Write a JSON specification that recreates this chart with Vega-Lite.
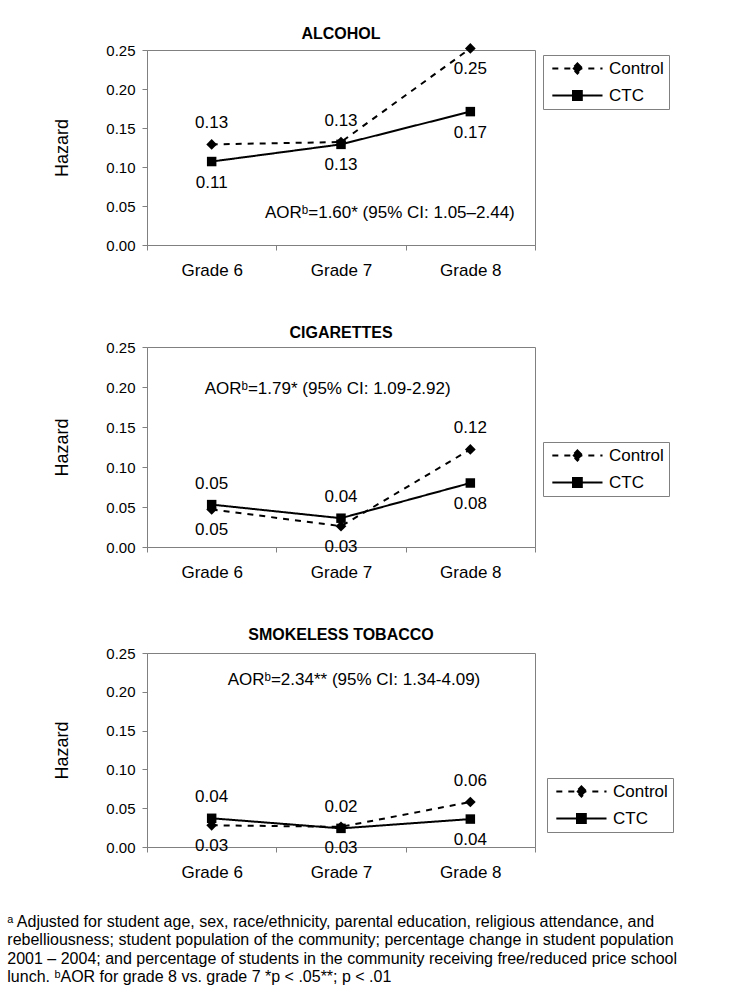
{
  "$schema": "https://vega.github.io/schema/vega-lite/v6.json",
  "padding": {"left": 7, "top": 25, "right": 5, "bottom": 5},
  "background": "white",
  "datasets": {
    "hazard": [
      {"panel": "ALCOHOL", "grade": "Grade 6", "group": "Control", "hazard": 0.129},
      {"panel": "ALCOHOL", "grade": "Grade 7", "group": "Control", "hazard": 0.132},
      {"panel": "ALCOHOL", "grade": "Grade 8", "group": "Control", "hazard": 0.252},
      {"panel": "ALCOHOL", "grade": "Grade 6", "group": "CTC", "hazard": 0.107},
      {"panel": "ALCOHOL", "grade": "Grade 7", "group": "CTC", "hazard": 0.129},
      {"panel": "ALCOHOL", "grade": "Grade 8", "group": "CTC", "hazard": 0.171},
      {"panel": "CIGARETTES", "grade": "Grade 6", "group": "Control", "hazard": 0.047},
      {"panel": "CIGARETTES", "grade": "Grade 7", "group": "Control", "hazard": 0.026},
      {"panel": "CIGARETTES", "grade": "Grade 8", "group": "Control", "hazard": 0.122},
      {"panel": "CIGARETTES", "grade": "Grade 6", "group": "CTC", "hazard": 0.053},
      {"panel": "CIGARETTES", "grade": "Grade 7", "group": "CTC", "hazard": 0.036},
      {"panel": "CIGARETTES", "grade": "Grade 8", "group": "CTC", "hazard": 0.080},
      {"panel": "SMOKELESS TOBACCO", "grade": "Grade 6", "group": "Control", "hazard": 0.028},
      {"panel": "SMOKELESS TOBACCO", "grade": "Grade 7", "group": "Control", "hazard": 0.026},
      {"panel": "SMOKELESS TOBACCO", "grade": "Grade 8", "group": "Control", "hazard": 0.058},
      {"panel": "SMOKELESS TOBACCO", "grade": "Grade 6", "group": "CTC", "hazard": 0.037},
      {"panel": "SMOKELESS TOBACCO", "grade": "Grade 7", "group": "CTC", "hazard": 0.024},
      {"panel": "SMOKELESS TOBACCO", "grade": "Grade 8", "group": "CTC", "hazard": 0.036}
    ],
    "notes": [
      {"panel": "ALCOHOL", "grade": "Grade 7", "hazard": 0.041, "note": "AORᵇ=1.60* (95% CI: 1.05–2.44)"},
      {"panel": "CIGARETTES", "grade": "Grade 6", "hazard": 0.198, "note": "AORᵇ=1.79* (95% CI: 1.09-2.92)"},
      {"panel": "SMOKELESS TOBACCO", "grade": "Grade 6", "hazard": 0.2156, "note": "AORᵇ=2.34** (95% CI: 1.34-4.09)"}
    ]
  },
  "title": {
    "text": [
      "ᵃ Adjusted for student age, sex, race/ethnicity, parental education, religious attendance, and",
      "rebelliousness; student population of the community; percentage change in student population",
      "2001 – 2004; and percentage of students in the community receiving free/reduced price school",
      "lunch. ᵇAOR for grade 8 vs. grade 7 *p < .05**; p < .01"
    ],
    "orient": "bottom",
    "anchor": "start",
    "frame": "bounds",
    "fontSize": 16,
    "fontWeight": "normal",
    "lineHeight": 18.5,
    "offset": 33,
    "dx": -46,
    "color": "black"
  },
  "spacing": 45,
  "resolve": {"scale": {"strokeDash": "independent"}},
  "vconcat": [
    {
      "width": 388,
      "height": 195,
      "title": {"text": "ALCOHOL", "frame": "group", "anchor": "middle", "fontSize": 16, "fontWeight": "bold", "offset": 1},
      "data": {"name": "hazard"},
      "encoding": {
        "x": {"field": "grade", "type": "ordinal", "scale": {"type": "band", "paddingInner": 0, "paddingOuter": 0},
              "axis": {"title": null, "labelAngle": 0, "tickBand": "extent", "tickSize": 5, "labelPadding": 12, "labelFontSize": 17}},
        "y": {"field": "hazard", "type": "quantitative", "scale": {"domain": [0, 0.25], "nice": false},
              "axis": {"title": "Hazard", "values": [0, 0.05, 0.1, 0.15, 0.2, 0.25], "format": ".2f", "tickSize": 5, "labelPadding": 7, "labelFontSize": 15, "titleFontSize": 18, "titlePadding": 34, "titleFontWeight": "normal"}}
      },
      "layer": [
        {
          "transform": [{"filter": "datum.panel === 'ALCOHOL'"}],
          "mark": {"type": "line", "color": "black", "strokeWidth": 2},
          "encoding": {
            "strokeDash": {"field": "group", "type": "nominal", "scale": {"domain": ["Control", "CTC"], "range": [[6, 6], [1, 0]]},
              "legend": {"title": null, "orient": "none", "legendX": 396, "legendY": 5,
                "encode": {"symbols": {"update": {
                  "shape": {"signal": "datum.value === 'CTC' ? 'M-1,0H11M3.95,-1.05H6.05V1.05H3.95Z' : 'M-1,0H11M5,-1.2L6.2,0L5,1.2L3.8,0Z'"},
                  "strokeDash": {"signal": "datum.value === 'CTC' ? [1,0] : [6,6]"},
                  "fill": {"value": "black"}, "stroke": {"value": "black"}, "strokeWidth": {"value": 2}, "opacity": {"value": 1}}}}}}
          }
        },
        {
          "transform": [{"filter": "datum.panel === 'ALCOHOL' && datum.group === 'Control'"}],
          "mark": {"type": "point", "shape": "diamond", "filled": true, "color": "black", "size": 115, "opacity": 1}
        },
        {
          "transform": [{"filter": "datum.panel === 'ALCOHOL' && datum.group === 'CTC'"}],
          "mark": {"type": "point", "shape": "square", "filled": true, "color": "black", "size": 90, "opacity": 1}
        },
        {
          "transform": [{"filter": "datum.panel === 'ALCOHOL' && datum.group === 'Control' && datum.grade !== 'Grade 8'"}],
          "mark": {"type": "text", "dy": -21, "fontSize": 17},
          "encoding": {"text": {"field": "hazard", "type": "quantitative", "format": ".2f"}}
        },
        {
          "transform": [{"filter": "datum.panel === 'ALCOHOL' && !(datum.group === 'Control' && datum.grade !== 'Grade 8')"}],
          "mark": {"type": "text", "dy": 21, "fontSize": 17},
          "encoding": {"text": {"field": "hazard", "type": "quantitative", "format": ".2f"}}
        },
        {
          "data": {"name": "notes"},
          "transform": [{"filter": "datum.panel === 'ALCOHOL'"}],
          "mark": {"type": "text", "align": "left", "dx": -76, "fontSize": 17},
          "encoding": {"text": {"field": "note", "type": "nominal"}}
        }
      ]
    },
    {
      "width": 388,
      "height": 200,
      "title": {"text": "CIGARETTES", "frame": "group", "anchor": "middle", "fontSize": 16, "fontWeight": "bold", "offset": -1},
      "data": {"name": "hazard"},
      "encoding": {
        "x": {"field": "grade", "type": "ordinal", "scale": {"type": "band", "paddingInner": 0, "paddingOuter": 0},
              "axis": {"title": null, "labelAngle": 0, "tickBand": "extent", "tickSize": 5, "labelPadding": 12, "labelFontSize": 17}},
        "y": {"field": "hazard", "type": "quantitative", "scale": {"domain": [0, 0.25], "nice": false},
              "axis": {"title": "Hazard", "values": [0, 0.05, 0.1, 0.15, 0.2, 0.25], "format": ".2f", "tickSize": 5, "labelPadding": 7, "labelFontSize": 15, "titleFontSize": 18, "titlePadding": 34, "titleFontWeight": "normal"}}
      },
      "layer": [
        {
          "transform": [{"filter": "datum.panel === 'CIGARETTES'"}],
          "mark": {"type": "line", "color": "black", "strokeWidth": 2},
          "encoding": {
            "strokeDash": {"field": "group", "type": "nominal", "scale": {"domain": ["Control", "CTC"], "range": [[6, 6], [1, 0]]},
              "legend": {"title": null, "orient": "none", "legendX": 396, "legendY": 95,
                "encode": {"symbols": {"update": {
                  "shape": {"signal": "datum.value === 'CTC' ? 'M-1,0H11M3.95,-1.05H6.05V1.05H3.95Z' : 'M-1,0H11M5,-1.2L6.2,0L5,1.2L3.8,0Z'"},
                  "strokeDash": {"signal": "datum.value === 'CTC' ? [1,0] : [6,6]"},
                  "fill": {"value": "black"}, "stroke": {"value": "black"}, "strokeWidth": {"value": 2}, "opacity": {"value": 1}}}}}}
          }
        },
        {
          "transform": [{"filter": "datum.panel === 'CIGARETTES' && datum.group === 'Control'"}],
          "mark": {"type": "point", "shape": "diamond", "filled": true, "color": "black", "size": 115, "opacity": 1}
        },
        {
          "transform": [{"filter": "datum.panel === 'CIGARETTES' && datum.group === 'CTC'"}],
          "mark": {"type": "point", "shape": "square", "filled": true, "color": "black", "size": 90, "opacity": 1}
        },
        {
          "transform": [{"filter": "datum.panel === 'CIGARETTES' && ((datum.group === 'CTC' && datum.grade !== 'Grade 8') || (datum.group === 'Control' && datum.grade === 'Grade 8'))"}],
          "mark": {"type": "text", "dy": -21, "fontSize": 17},
          "encoding": {"text": {"field": "hazard", "type": "quantitative", "format": ".2f"}}
        },
        {
          "transform": [{"filter": "datum.panel === 'CIGARETTES' && !((datum.group === 'CTC' && datum.grade !== 'Grade 8') || (datum.group === 'Control' && datum.grade === 'Grade 8'))"}],
          "mark": {"type": "text", "dy": 21, "fontSize": 17},
          "encoding": {"text": {"field": "hazard", "type": "quantitative", "format": ".2f"}}
        },
        {
          "data": {"name": "notes"},
          "transform": [{"filter": "datum.panel === 'CIGARETTES'"}],
          "mark": {"type": "text", "align": "left", "dx": -7, "fontSize": 17},
          "encoding": {"text": {"field": "note", "type": "nominal"}}
        }
      ]
    },
    {
      "width": 388,
      "height": 194,
      "title": {"text": "SMOKELESS TOBACCO", "frame": "group", "anchor": "middle", "fontSize": 16, "fontWeight": "bold", "offset": 3},
      "data": {"name": "hazard"},
      "encoding": {
        "x": {"field": "grade", "type": "ordinal", "scale": {"type": "band", "paddingInner": 0, "paddingOuter": 0},
              "axis": {"title": null, "labelAngle": 0, "tickBand": "extent", "tickSize": 5, "labelPadding": 12, "labelFontSize": 17}},
        "y": {"field": "hazard", "type": "quantitative", "scale": {"domain": [0, 0.25], "nice": false},
              "axis": {"title": "Hazard", "values": [0, 0.05, 0.1, 0.15, 0.2, 0.25], "format": ".2f", "tickSize": 5, "labelPadding": 7, "labelFontSize": 15, "titleFontSize": 18, "titlePadding": 34, "titleFontWeight": "normal"}}
      },
      "layer": [
        {
          "transform": [{"filter": "datum.panel === 'SMOKELESS TOBACCO'"}],
          "mark": {"type": "line", "color": "black", "strokeWidth": 2},
          "encoding": {
            "strokeDash": {"field": "group", "type": "nominal", "scale": {"domain": ["Control", "CTC"], "range": [[6, 6], [1, 0]]},
              "legend": {"title": null, "orient": "none", "legendX": 400, "legendY": 125,
                "encode": {"symbols": {"update": {
                  "shape": {"signal": "datum.value === 'CTC' ? 'M-1,0H11M3.95,-1.05H6.05V1.05H3.95Z' : 'M-1,0H11M5,-1.2L6.2,0L5,1.2L3.8,0Z'"},
                  "strokeDash": {"signal": "datum.value === 'CTC' ? [1,0] : [6,6]"},
                  "fill": {"value": "black"}, "stroke": {"value": "black"}, "strokeWidth": {"value": 2}, "opacity": {"value": 1}}}}}}
          }
        },
        {
          "transform": [{"filter": "datum.panel === 'SMOKELESS TOBACCO' && datum.group === 'Control'"}],
          "mark": {"type": "point", "shape": "diamond", "filled": true, "color": "black", "size": 115, "opacity": 1}
        },
        {
          "transform": [{"filter": "datum.panel === 'SMOKELESS TOBACCO' && datum.group === 'CTC'"}],
          "mark": {"type": "point", "shape": "square", "filled": true, "color": "black", "size": 90, "opacity": 1}
        },
        {
          "transform": [{"filter": "datum.panel === 'SMOKELESS TOBACCO' && ((datum.group === 'CTC' && datum.grade !== 'Grade 8') || (datum.group === 'Control' && datum.grade === 'Grade 8'))"}],
          "mark": {"type": "text", "dy": -21, "fontSize": 17},
          "encoding": {"text": {"field": "hazard", "type": "quantitative", "format": ".2f"}}
        },
        {
          "transform": [{"filter": "datum.panel === 'SMOKELESS TOBACCO' && !((datum.group === 'CTC' && datum.grade !== 'Grade 8') || (datum.group === 'Control' && datum.grade === 'Grade 8'))"}],
          "mark": {"type": "text", "dy": 21, "fontSize": 17},
          "encoding": {"text": {"field": "hazard", "type": "quantitative", "format": ".2f"}}
        },
        {
          "data": {"name": "notes"},
          "transform": [{"filter": "datum.panel === 'SMOKELESS TOBACCO'"}],
          "mark": {"type": "text", "align": "left", "dx": 16, "fontSize": 17},
          "encoding": {"text": {"field": "note", "type": "nominal"}}
        }
      ]
    }
  ],
  "config": {
    "font": "Liberation Sans",
    "view": {"stroke": "#808080", "strokeWidth": 1},
    "axis": {"domainColor": "#808080", "tickColor": "#808080", "labelColor": "black", "titleColor": "black", "grid": false, "labelFont": "Liberation Sans", "titleFont": "Liberation Sans"},
    "text": {"color": "black", "font": "Liberation Sans"},
    "title": {"color": "black", "font": "Liberation Sans"},
    "legend": {
      "symbolSize": 70, "symbolStrokeWidth": 2, "symbolStrokeColor": "black", "symbolFillColor": "black",
      "symbolType": "M-1,0H11M5,-1.2L6.2,0L5,1.2L3.8,0Z",
      "labelFontSize": 17, "labelOffset": 44, "rowPadding": 8, "padding": 5,
      "strokeColor": "#808080", "fillColor": "white", "labelColor": "black", "labelFont": "Liberation Sans"
    }
  }
}
